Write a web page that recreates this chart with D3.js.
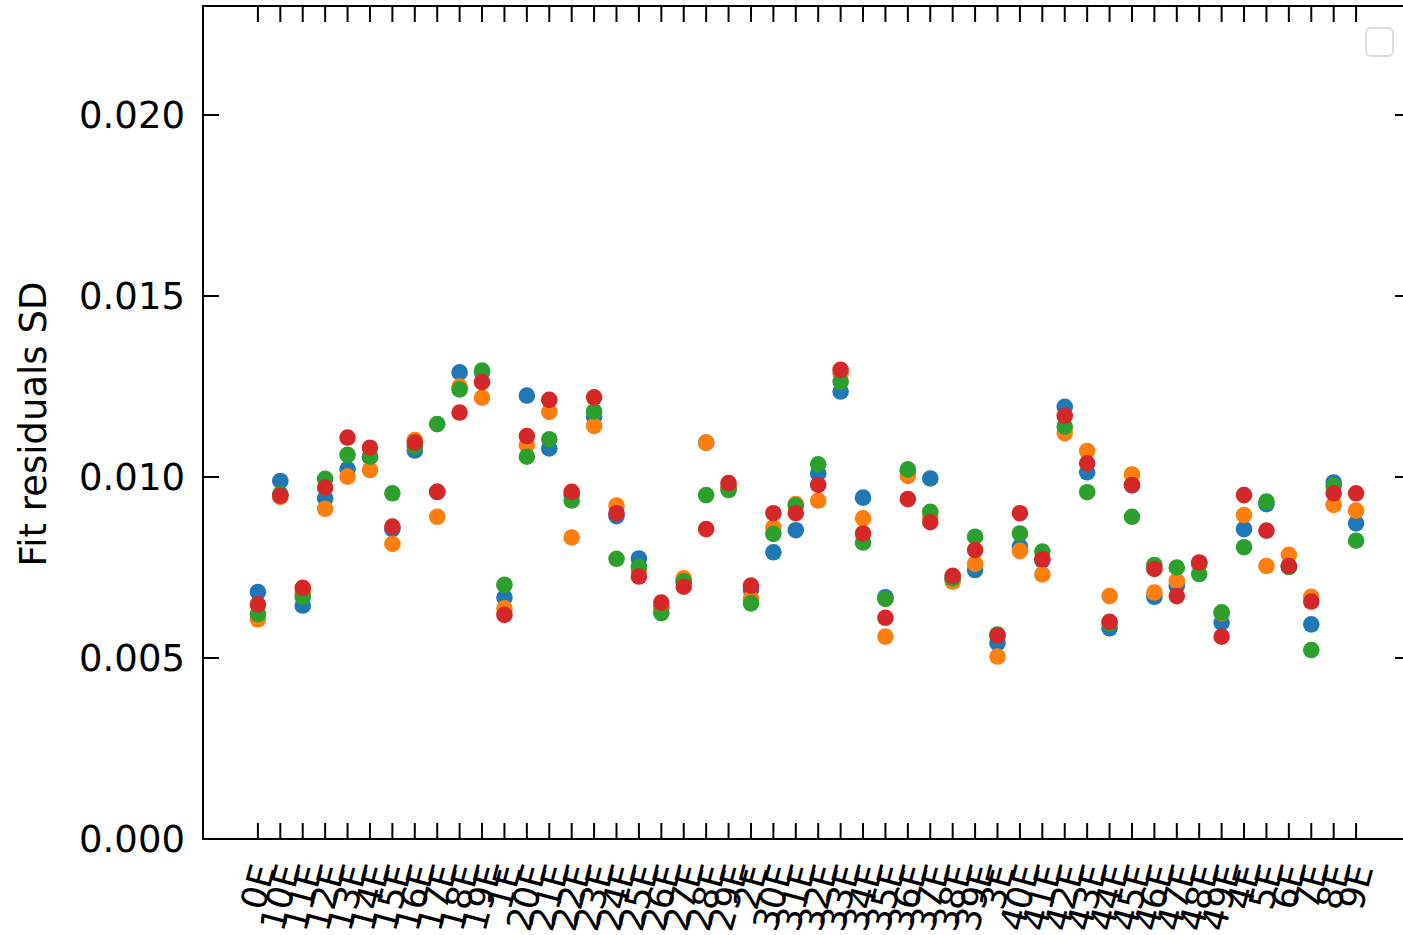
<!DOCTYPE html>
<html>
<head>
<meta charset="utf-8">
<script src="https://cdn.jsdelivr.net/npm/d3@7"></script>
<style>
  html, body { margin: 0; padding: 0; background: #fff; }
  svg { display: block; }
  text { font-family: "DejaVu Sans", sans-serif; fill: #000; }
</style>
</head>
<body>
<svg id="chart" width="1403" height="935"></svg>
<script>
// ---- Data ----
const categories = ["0E","10E","11E","12E","13E","14E","15E","16E","17E","18E","19E","1E",
  "20E","21E","22E","23E","24E","25E","26E","27E","28E","29E","2E",
  "30E","31E","32E","33E","34E","35E","36E","37E","38E","39E","3E",
  "40E","41E","42E","43E","44E","45E","46E","47E","48E","49E","4E",
  "5E","6E","7E","8E","9E"];

const seriesBlue = [0.00682,0.00989,0.00645,0.00941,0.01022,0.01055,0.00856,0.01073,0.00959,0.01289,
  0.01290,0.00667,0.01225,0.01079,0.00950,0.01167,0.00892,0.00775,0.00640,0.00710,
  0.01095,0.00970,0.00688,0.00792,0.00853,0.01010,0.01236,0.00943,0.00668,0.01015,
  0.00996,0.00718,0.00743,0.00541,0.00808,0.00770,0.01194,0.01013,0.00582,0.00977,
  0.00669,0.00699,0.00760,0.00598,0.00856,0.00925,0.00752,0.00593,0.00985,0.00872];

const seriesOrange = [0.00607,0.00945,0.00680,0.00912,0.01001,0.01019,0.00815,0.01102,0.00890,0.01250,
  0.01219,0.00637,0.01088,0.01180,0.00833,0.01141,0.00921,0.00740,0.00640,0.00720,
  0.01095,0.00970,0.00665,0.00861,0.00925,0.00935,0.01286,0.00886,0.00559,0.01003,
  0.00890,0.00711,0.00760,0.00504,0.00796,0.00731,0.01121,0.01072,0.00671,0.01007,
  0.00681,0.00713,0.00762,0.00624,0.00895,0.00754,0.00785,0.00669,0.00923,0.00907];

const seriesGreen = [0.00621,0.00953,0.00669,0.00995,0.01061,0.01056,0.00955,0.01084,0.01146,0.01242,
  0.01294,0.00702,0.01056,0.01104,0.00935,0.01181,0.00774,0.00752,0.00624,0.00712,
  0.00950,0.00964,0.00651,0.00843,0.00921,0.01035,0.01263,0.00819,0.00663,0.01021,
  0.00904,0.00720,0.00835,0.00565,0.00844,0.00794,0.01139,0.00958,0.00595,0.00890,
  0.00757,0.00750,0.00732,0.00626,0.00806,0.00932,0.00752,0.00522,0.00976,0.00824];

const seriesRed = [0.00648,0.00948,0.00694,0.00971,0.01109,0.01081,0.00863,0.01095,0.00959,0.01178,
  0.01262,0.00619,0.01113,0.01213,0.00959,0.01220,0.00900,0.00725,0.00653,0.00697,
  0.00856,0.00983,0.00700,0.00900,0.00900,0.00978,0.01296,0.00844,0.00611,0.00939,
  0.00875,0.00727,0.00798,0.00562,0.00900,0.00773,0.01169,0.01038,0.00600,0.00978,
  0.00746,0.00671,0.00764,0.00559,0.00950,0.00852,0.00754,0.00656,0.00955,0.00955];

const seriesColors = ["#1f77b4", "#ff7f0e", "#2ca02c", "#d62728"];
const yTicks = [0.000, 0.005, 0.010, 0.015, 0.020];
const yLabel = "Fit residuals SD";

// ---- Layout ----
const svg = d3.select("#chart");
const L = 203, R = 1411, B = 839, T = 6;
const n = categories.length;
const x = d3.scaleLinear().domain([-0.05 * (n - 1), (n - 1) * 1.05]).range([L, R]);
const y = d3.scaleLinear().domain([0, 0.023]).range([B, B - 0.023 * 36200]);
const tickLen = 16;
const fontSize = 37;
const xFontSize = 35;

// points
const allSeries = [seriesBlue, seriesOrange, seriesGreen, seriesRed];
allSeries.forEach((s, si) => {
  svg.append("g").selectAll("circle").data(s).join("circle")
    .attr("cx", (d, i) => x(i))
    .attr("cy", d => y(d))
    .attr("r", 8.3)
    .attr("fill", seriesColors[si]);
});

// ticks (inward)
const tg = svg.append("g").attr("stroke", "#000").attr("stroke-width", 2);
categories.forEach((c, i) => {
  tg.append("line").attr("x1", x(i)).attr("x2", x(i)).attr("y1", B).attr("y2", B - tickLen);
  tg.append("line").attr("x1", x(i)).attr("x2", x(i)).attr("y1", T).attr("y2", T + tickLen);
});
yTicks.forEach(v => {
  tg.append("line").attr("x1", L).attr("x2", L + tickLen).attr("y1", y(v)).attr("y2", y(v));
  tg.append("line").attr("x1", R).attr("x2", R - tickLen).attr("y1", y(v)).attr("y2", y(v));
});

// spines
svg.append("rect").attr("x", L).attr("y", T).attr("width", R - L).attr("height", B - T)
  .attr("fill", "none").attr("stroke", "#000").attr("stroke-width", 2);

// y tick labels
svg.append("g").selectAll("text").data(yTicks).join("text")
  .attr("x", 185).attr("y", d => y(d))
  .attr("text-anchor", "end").attr("dominant-baseline", "central")
  .attr("font-size", fontSize)
  .text(d => d3.format(".3f")(d));

// x tick labels rotated 75deg, bbox centred under tick
const theta = 75 * Math.PI / 180;
const xTop = 862;
const xg = svg.append("g");
categories.forEach((c, i) => {
  const t = xg.append("text")
    .attr("font-size", xFontSize)
    .attr("text-anchor", "end")
    .attr("dominant-baseline", "central")
    .text(c);
  const w = t.node().getComputedTextLength();
  const h = xFontSize * 0.75;
  const H = w * Math.sin(theta) + h * Math.cos(theta);
  const ax = x(i) + (w / 2) * Math.cos(theta);
  const ay = xTop + H / 2 - (w / 2) * Math.sin(theta);
  t.attr("transform", `translate(${ax},${ay}) rotate(-75)`);
});

// y label
svg.append("text")
  .attr("transform", `translate(33,424) rotate(-90)`)
  .attr("text-anchor", "middle").attr("dominant-baseline", "central")
  .attr("font-size", fontSize)
  .text(yLabel);

// empty legend box
svg.append("rect").attr("x", 1366).attr("y", 28).attr("width", 27).attr("height", 28)
  .attr("rx", 5).attr("fill", "#fff").attr("stroke", "#dcdcdc").attr("stroke-width", 2);
</script>
</body>
</html>
